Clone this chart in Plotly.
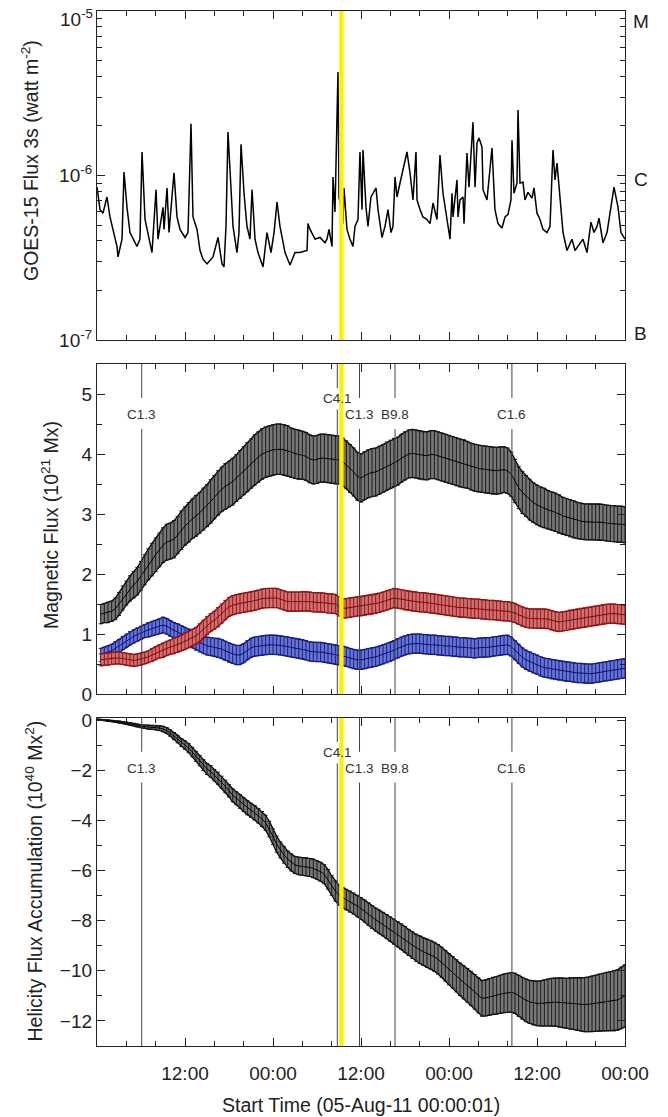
import numpy as np
import plotly.graph_objects as go

# ---------------------------------------------------------------------------
# GOES-15 soft X-ray flux (hours after 05-Aug-2011 00:00 UT, units of 1e-7 W m^-2)
goes_hours = [
    0.00, 0.41, 0.82, 1.36, 1.77, 2.18, 2.73, 2.86, 3.41, 3.68,
    4.09, 4.50, 4.91, 5.45, 5.86, 6.14, 6.55, 6.95, 7.50, 8.05,
    8.32, 9.00, 9.14, 9.55, 9.82, 10.50, 10.91, 11.32, 12.00, 12.41,
    12.82, 13.09, 13.64, 14.05, 14.45, 15.00, 15.82, 16.50, 17.05, 17.32,
    17.59, 17.86, 18.14, 18.55, 19.09, 19.36, 19.64, 20.05, 20.45, 20.86,
    21.14, 21.55, 21.95, 22.64, 23.18, 23.73, 24.14, 24.55, 24.95, 25.64,
    26.32, 27.00, 27.68, 28.64, 28.77, 29.05, 29.73, 30.41, 31.09, 31.36,
    31.64, 32.05, 32.18, 32.45, 32.86, 33.00, 33.41, 33.55, 33.68, 34.09,
    34.50, 34.91, 35.18, 35.59, 35.86, 36.14, 36.27, 36.68, 36.95, 37.36,
    37.64, 38.05, 38.32, 38.86, 39.27, 39.68, 40.09, 40.36, 40.64, 40.91,
    41.32, 41.73, 42.27, 42.68, 43.09, 43.50, 43.64, 44.05, 44.45, 45.00,
    45.41, 45.82, 46.36, 46.77, 47.18, 47.73, 48.14, 48.41, 48.55, 49.09,
    49.23, 49.50, 49.91, 50.05, 50.45, 50.73, 51.14, 51.27, 51.55, 51.82,
    52.09, 52.50, 52.64, 53.18, 53.86, 54.00, 54.27, 54.68, 55.23, 55.64,
    56.05, 56.45, 56.59, 56.86, 57.27, 57.41, 57.68, 58.09, 58.36, 58.77,
    59.32, 59.59, 60.00, 60.41, 60.82, 61.36, 61.77, 62.18, 62.45, 62.73,
    63.14, 63.55, 64.09, 64.77, 65.18, 65.86, 66.27, 66.82, 67.36, 67.77,
    68.18, 68.45, 69.00, 69.55, 70.09, 70.50, 71.05, 71.45, 72.00,
]
goes_flux_e7 = [
    8.5, 6.2, 5.9, 7.4, 5.6, 4.7, 3.7, 3.2, 4.1, 10.5,
    6.4, 4.5, 4.1, 3.7, 4.1, 13.9, 5.4, 4.5, 3.4, 8.2,
    4.1, 6.4, 4.7, 8.4, 4.5, 10.4, 5.6, 4.7, 4.2, 4.5,
    20.6, 5.6, 4.7, 3.5, 3.1, 2.9, 3.2, 4.2, 2.9, 2.78,
    4.9, 18.4, 10.4, 4.9, 3.4, 4.5, 15.5, 7.8, 4.9, 4.1,
    8.2, 4.1, 3.4, 2.78, 4.5, 3.4, 4.5, 6.9, 4.9, 3.4,
    2.86, 3.4, 3.4, 3.5, 5.1, 4.7, 4.1, 4.2, 3.9, 4.1,
    4.7, 3.7, 9.8, 6.0, 42.6, 7.4, 5.9, 5.1, 8.4, 4.7,
    4.1, 3.7, 4.9, 5.4, 13.9, 6.2, 14.3, 6.4, 4.9, 7.4,
    7.8, 8.4, 6.2, 4.2, 4.9, 6.2, 4.5, 4.9, 9.8, 7.4,
    9.0, 10.8, 13.9, 10.4, 7.1, 13.9, 7.1, 6.2, 5.6, 5.4,
    5.1, 6.8, 5.4, 13.3, 7.8, 5.4, 4.1, 7.8, 5.6, 9.4,
    5.6, 7.1, 7.4, 5.1, 13.7, 8.5, 17.1, 21.1, 8.5, 15.8,
    16.9, 14.9, 8.2, 7.1, 14.7, 10.8, 6.2, 5.1, 4.8, 5.6,
    5.8, 7.1, 16.4, 7.8, 9.0, 25.0, 9.0, 9.1, 7.1, 7.9,
    7.3, 8.4, 5.9, 5.4, 4.7, 4.5, 4.9, 14.3, 9.4, 11.9,
    7.1, 4.5, 3.5, 4.1, 3.5, 3.9, 4.1, 3.4, 5.2, 4.5,
    4.9, 5.5, 3.9, 4.5, 6.4, 8.5, 6.4, 4.5, 4.1,
]

# ---------------------------------------------------------------------------
# Magnetic flux of the active region (10^21 Mx), half-hour samples from 00:30
flux_hours = np.arange(1, 145) * 0.5
total_flux = [
    1.33, 1.35, 1.36, 1.38, 1.42, 1.50, 1.60, 1.68, 1.76, 1.82,
    1.88, 1.97, 2.07, 2.16, 2.24, 2.32, 2.40, 2.48, 2.53, 2.55,
    2.58, 2.65, 2.73, 2.80, 2.86, 2.92, 2.97, 3.02, 3.08, 3.14,
    3.21, 3.28, 3.35, 3.41, 3.46, 3.50, 3.54, 3.60, 3.66, 3.72,
    3.78, 3.84, 3.90, 3.95, 4.00, 4.03, 4.05, 4.07, 4.08, 4.08,
    4.07, 4.05, 4.02, 4.00, 3.99, 3.98, 3.96, 3.92, 3.90, 3.91,
    3.93, 3.93, 3.92, 3.91, 3.90, 3.90, 3.87, 3.82, 3.76, 3.70,
    3.63, 3.60, 3.64, 3.67, 3.69, 3.70, 3.73, 3.76, 3.80, 3.83,
    3.86, 3.88, 3.93, 3.97, 4.00, 4.01, 4.00, 3.98, 3.97, 3.97,
    3.99, 3.99, 3.97, 3.95, 3.93, 3.91, 3.89, 3.87, 3.85, 3.84,
    3.82, 3.79, 3.77, 3.76, 3.75, 3.74, 3.73, 3.72, 3.72, 3.73,
    3.74, 3.72, 3.66, 3.55, 3.44, 3.36, 3.30, 3.24, 3.19, 3.15,
    3.12, 3.10, 3.07, 3.05, 3.03, 3.00, 2.97, 2.95, 2.93, 2.91,
    2.89, 2.88, 2.87, 2.87, 2.87, 2.87, 2.87, 2.86, 2.85, 2.84, 2.84, 2.83, 2.83, 2.82,
]
total_err = [
    0.16, 0.16, 0.17, 0.17, 0.18, 0.19, 0.20, 0.20, 0.21, 0.22,
    0.23, 0.24, 0.25, 0.26, 0.27, 0.28, 0.28, 0.29, 0.30, 0.30,
    0.31, 0.31, 0.32, 0.32, 0.33, 0.33, 0.34, 0.34, 0.35, 0.35,
    0.36, 0.36, 0.37, 0.37, 0.38, 0.38, 0.39, 0.39, 0.40, 0.40,
    0.41, 0.41, 0.42, 0.42, 0.42, 0.42, 0.42, 0.42, 0.42, 0.42,
    0.42, 0.42, 0.41, 0.41, 0.41, 0.40, 0.40, 0.40, 0.40, 0.40,
    0.40, 0.40, 0.40, 0.40, 0.40, 0.40, 0.40, 0.40, 0.40, 0.40,
    0.40, 0.40, 0.40, 0.40, 0.40, 0.40, 0.40, 0.40, 0.40, 0.40,
    0.40, 0.40, 0.40, 0.40, 0.40, 0.40, 0.40, 0.40, 0.40, 0.40,
    0.40, 0.40, 0.40, 0.40, 0.40, 0.40, 0.40, 0.40, 0.40, 0.40,
    0.39, 0.39, 0.39, 0.39, 0.39, 0.39, 0.39, 0.39, 0.39, 0.39,
    0.38, 0.38, 0.37, 0.36, 0.35, 0.35, 0.34, 0.34, 0.33, 0.33,
    0.33, 0.33, 0.32, 0.32, 0.32, 0.32, 0.31, 0.31, 0.31, 0.31,
    0.30, 0.30, 0.30, 0.30, 0.30, 0.30, 0.30, 0.30, 0.30, 0.30, 0.30, 0.30, 0.30, 0.30,
]
positive_flux = [
    0.57, 0.58, 0.58, 0.59, 0.60, 0.60, 0.59, 0.58, 0.57, 0.56,
    0.57, 0.58, 0.60, 0.62, 0.65, 0.68, 0.71, 0.73, 0.76, 0.78,
    0.80, 0.82, 0.85, 0.88, 0.91, 0.94, 0.97, 1.02, 1.08, 1.14,
    1.19, 1.23, 1.28, 1.34, 1.40, 1.45, 1.48, 1.50, 1.51, 1.52,
    1.53, 1.54, 1.55, 1.57, 1.59, 1.60, 1.60, 1.60, 1.60, 1.58,
    1.56, 1.54, 1.54, 1.54, 1.54, 1.55, 1.55, 1.54, 1.53, 1.53,
    1.53, 1.52, 1.51, 1.51, 1.50, 1.46, 1.43, 1.43, 1.44, 1.45,
    1.46, 1.46, 1.47, 1.48, 1.49, 1.50, 1.52, 1.54, 1.56, 1.58,
    1.60, 1.59, 1.58, 1.56, 1.55, 1.54, 1.54, 1.53, 1.53, 1.52,
    1.51, 1.51, 1.50, 1.49, 1.48, 1.47, 1.46, 1.45, 1.44, 1.44,
    1.43, 1.43, 1.42, 1.42, 1.41, 1.41, 1.40, 1.40, 1.39, 1.39,
    1.38, 1.38, 1.37, 1.35, 1.32, 1.29, 1.27, 1.26, 1.26, 1.26,
    1.26, 1.26, 1.25, 1.23, 1.21, 1.20, 1.21, 1.22, 1.24, 1.25,
    1.26, 1.27, 1.28, 1.29, 1.30, 1.31, 1.32, 1.33, 1.34, 1.34, 1.34, 1.33, 1.33, 1.32,
]
positive_err = [
    0.10, 0.10, 0.10, 0.10, 0.10, 0.10, 0.10, 0.10, 0.10, 0.10,
    0.10, 0.10, 0.10, 0.10, 0.11, 0.11, 0.11, 0.12, 0.12, 0.12,
    0.13, 0.13, 0.13, 0.14, 0.14, 0.14, 0.14, 0.15, 0.15, 0.15,
    0.15, 0.15, 0.16, 0.16, 0.16, 0.16, 0.16, 0.16, 0.16, 0.16,
    0.16, 0.16, 0.16, 0.16, 0.16, 0.16, 0.16, 0.16, 0.16, 0.16,
    0.16, 0.16, 0.16, 0.16, 0.16, 0.16, 0.16, 0.16, 0.16, 0.16,
    0.16, 0.16, 0.16, 0.16, 0.16, 0.16, 0.16, 0.16, 0.16, 0.16,
    0.16, 0.16, 0.16, 0.16, 0.16, 0.16, 0.16, 0.16, 0.16, 0.16,
    0.16, 0.16, 0.16, 0.16, 0.16, 0.16, 0.16, 0.16, 0.16, 0.16,
    0.16, 0.16, 0.16, 0.16, 0.16, 0.16, 0.16, 0.16, 0.16, 0.16,
    0.16, 0.16, 0.16, 0.16, 0.16, 0.16, 0.16, 0.16, 0.16, 0.16,
    0.16, 0.16, 0.16, 0.16, 0.16, 0.16, 0.16, 0.16, 0.16, 0.16,
    0.16, 0.16, 0.16, 0.16, 0.16, 0.16, 0.16, 0.16, 0.16, 0.16,
    0.16, 0.16, 0.16, 0.16, 0.16, 0.16, 0.16, 0.16, 0.16, 0.16, 0.16, 0.16, 0.16, 0.16,
]
negative_flux = [
    0.65, 0.67, 0.69, 0.72, 0.76, 0.80, 0.85, 0.89, 0.93, 0.96,
    0.99, 1.02, 1.05, 1.07, 1.09, 1.11, 1.13, 1.15, 1.13, 1.09,
    1.06, 1.03, 1.00, 0.97, 0.94, 0.91, 0.88, 0.85, 0.82, 0.80,
    0.79, 0.78, 0.77, 0.75, 0.72, 0.69, 0.67, 0.65, 0.65, 0.68,
    0.73, 0.77, 0.79, 0.80, 0.81, 0.82, 0.82, 0.82, 0.82, 0.81,
    0.80, 0.79, 0.78, 0.77, 0.76, 0.75, 0.73, 0.71, 0.70, 0.70,
    0.70, 0.69, 0.68, 0.67, 0.66, 0.65, 0.64, 0.62, 0.60, 0.58,
    0.57, 0.57, 0.58, 0.60, 0.61, 0.62, 0.64, 0.66, 0.68, 0.70,
    0.73, 0.76, 0.79, 0.81, 0.83, 0.84, 0.84, 0.84, 0.83, 0.83,
    0.82, 0.82, 0.81, 0.81, 0.80, 0.80, 0.79, 0.79, 0.78, 0.78,
    0.77, 0.77, 0.76, 0.77, 0.77, 0.78, 0.78, 0.79, 0.80, 0.81,
    0.82, 0.82, 0.79, 0.73, 0.67, 0.61, 0.57, 0.54, 0.51, 0.49,
    0.46, 0.44, 0.43, 0.41, 0.40, 0.39, 0.38, 0.37, 0.37, 0.36,
    0.35, 0.35, 0.34, 0.34, 0.34, 0.35, 0.36, 0.37, 0.38, 0.39, 0.40, 0.41, 0.42, 0.43,
]
negative_err = [
    0.11, 0.11, 0.11, 0.11, 0.11, 0.11, 0.11, 0.11, 0.11, 0.11,
    0.11, 0.11, 0.11, 0.12, 0.12, 0.12, 0.12, 0.13, 0.13, 0.13,
    0.13, 0.14, 0.14, 0.14, 0.14, 0.14, 0.15, 0.15, 0.15, 0.15,
    0.15, 0.15, 0.16, 0.16, 0.16, 0.16, 0.16, 0.16, 0.16, 0.16,
    0.16, 0.16, 0.16, 0.16, 0.16, 0.16, 0.16, 0.16, 0.16, 0.16,
    0.16, 0.16, 0.16, 0.16, 0.16, 0.16, 0.16, 0.16, 0.16, 0.16,
    0.16, 0.16, 0.16, 0.16, 0.16, 0.16, 0.16, 0.16, 0.16, 0.16,
    0.16, 0.16, 0.16, 0.16, 0.16, 0.16, 0.16, 0.16, 0.16, 0.16,
    0.16, 0.16, 0.16, 0.16, 0.16, 0.16, 0.16, 0.16, 0.16, 0.16,
    0.16, 0.16, 0.16, 0.16, 0.16, 0.16, 0.16, 0.16, 0.16, 0.16,
    0.16, 0.16, 0.16, 0.16, 0.16, 0.16, 0.16, 0.16, 0.16, 0.16,
    0.16, 0.16, 0.16, 0.16, 0.16, 0.16, 0.16, 0.16, 0.16, 0.16,
    0.16, 0.16, 0.16, 0.16, 0.16, 0.16, 0.16, 0.16, 0.16, 0.16,
    0.16, 0.16, 0.16, 0.16, 0.16, 0.16, 0.16, 0.16, 0.16, 0.16, 0.16, 0.16, 0.16, 0.16,
]

# ---------------------------------------------------------------------------
# Accumulated helicity flux (10^40 Mx^2), half-hour samples from 00:00
helicity_hours = np.arange(0, 145) * 0.5
helicity = [
    0.02,
    0.01, 0.00, -0.02, -0.04, -0.06, -0.08, -0.10, -0.12, -0.15, -0.18,
    -0.22, -0.25, -0.27, -0.28, -0.29, -0.30, -0.32, -0.36, -0.42, -0.52,
    -0.64, -0.76, -0.90, -1.00, -1.12, -1.28, -1.45, -1.62, -1.80, -1.95,
    -2.05, -2.20, -2.32, -2.48, -2.65, -2.82, -3.00, -3.12, -3.25, -3.38,
    -3.50, -3.60, -3.70, -3.82, -3.95, -4.10, -4.35, -4.65, -4.95, -5.18,
    -5.38, -5.55, -5.68, -5.78, -5.82, -5.84, -5.85, -5.88, -5.92, -5.98,
    -6.05, -6.15, -6.35, -6.60, -6.82, -6.98, -7.08, -7.16, -7.24, -7.32,
    -7.42, -7.52, -7.62, -7.74, -7.86, -7.96, -8.05, -8.14, -8.24, -8.34,
    -8.44, -8.54, -8.64, -8.75, -8.87, -8.98, -9.08, -9.16, -9.24, -9.30,
    -9.36, -9.44, -9.54, -9.66, -9.80, -9.94, -10.06, -10.20, -10.34, -10.46,
    -10.58, -10.70, -10.84, -10.98, -11.10, -11.08, -11.04, -11.00, -10.98, -10.94,
    -10.90, -10.88, -10.86, -10.90, -11.00, -11.10, -11.18, -11.24, -11.28, -11.30,
    -11.30, -11.28, -11.26, -11.25, -11.25, -11.26, -11.28, -11.30, -11.30, -11.31,
    -11.32, -11.34, -11.35, -11.34, -11.32, -11.30, -11.27, -11.25, -11.23, -11.22,
    -11.20, -11.16, -11.08, -11.00,
]
helicity_err = [
    0.02, 0.02, 0.02, 0.03, 0.03, 0.03, 0.04, 0.04, 0.04, 0.05, 0.05,
    0.06, 0.06, 0.07, 0.08, 0.08, 0.09, 0.10, 0.11, 0.12, 0.13,
    0.14, 0.15, 0.16, 0.17, 0.18, 0.19, 0.20, 0.21, 0.22, 0.22,
    0.23, 0.23, 0.24, 0.24, 0.25, 0.25, 0.26, 0.26, 0.27, 0.27,
    0.28, 0.28, 0.29, 0.29, 0.30, 0.30, 0.31, 0.31, 0.32, 0.32,
    0.33, 0.33, 0.34, 0.34, 0.35, 0.35, 0.36, 0.36, 0.37, 0.37,
    0.38, 0.38, 0.39, 0.39, 0.40, 0.40, 0.41, 0.41, 0.42, 0.42,
    0.43, 0.43, 0.44, 0.45, 0.45, 0.46, 0.47, 0.47, 0.48, 0.49,
    0.50, 0.50, 0.51, 0.52, 0.52, 0.53, 0.54, 0.55, 0.55, 0.56,
    0.57, 0.58, 0.59, 0.60, 0.61, 0.62, 0.63, 0.64, 0.65, 0.66,
    0.67, 0.68, 0.69, 0.70, 0.71, 0.72, 0.73, 0.74, 0.75, 0.76,
    0.77, 0.78, 0.79, 0.80, 0.82, 0.83, 0.85, 0.86, 0.88, 0.89,
    0.90, 0.92, 0.93, 0.95, 0.96, 0.98, 0.99, 1.00, 1.02, 1.03,
    1.05, 1.06, 1.08, 1.09, 1.11, 1.12, 1.14, 1.15, 1.17, 1.18, 1.20, 1.21, 1.23, 1.24,
]

# Flare peaks marked on the lower panels
flare_hours = [6.10, 32.77, 35.80, 40.64, 56.58]
flare_class = ["C1.3", "C4.1", "C1.3", "B9.8", "C1.6"]
flare_raised = [False, True, False, False, False]
highlight_span = (33.03, 33.63)

# Time axis ticks
major_hours = [0, 12, 24, 36, 48, 60, 72]
major_text = ["", "12:00", "00:00", "12:00", "00:00", "12:00", "00:00"]
minor_hours = [h for h in range(0, 73, 4) if h % 12]

# GOES flux decades (top decade label is placed by hand just inside the frame)
goes_decades = [1e-7, 1e-6, 1e-5]
goes_decade_text = ["10<sup>-7</sup>", "10<sup>-6</sup>", ""]
goes_top_label = "10<sup>-5</sup>"

# ---------------------------------------------------------------------------
FONT = "Liberation Sans, Arial, Helvetica, sans-serif"
INK = "#222222"
W, H = 668, 1117
L, R, T, B = 97, 43, 11, 71
plot_h = H - T - B


def dom(top_px, bot_px):
    return [(H - B - bot_px) / plot_h, (H - B - top_px) / plot_h]


def px_x(px):
    return (px - L) / (W - L - R)


def px_y(py):
    return (H - B - py) / plot_h


fig = go.Figure()

# Panel 1: GOES flux
fig.add_trace(go.Scatter(
    x=goes_hours, y=np.array(goes_flux_e7) * 1e-7, mode="lines",
    line=dict(color="black", width=1.5), xaxis="x", yaxis="y", showlegend=False,
))


def band(x, y, err, xa, ya, fill, bar, edge):
    y = np.array(y)
    err = np.array(err)
    fig.add_trace(go.Scatter(x=x, y=y + err, mode="lines", line=dict(color=edge, width=1.2),
                             xaxis=xa, yaxis=ya, showlegend=False))
    fig.add_trace(go.Scatter(x=x, y=y - err, mode="lines", line=dict(color=edge, width=1.2),
                             fill="tonexty", fillcolor=fill,
                             xaxis=xa, yaxis=ya, showlegend=False))
    fig.add_trace(go.Scatter(x=x, y=y, mode="markers",
                             marker=dict(size=1, color="rgba(0,0,0,0)"),
                             error_y=dict(type="data", array=err, color=bar, thickness=1, width=2),
                             xaxis=xa, yaxis=ya, showlegend=False))
    fig.add_trace(go.Scatter(x=x, y=y, mode="lines", line=dict(color=edge, width=1),
                             xaxis=xa, yaxis=ya, showlegend=False))


# Panel 2: magnetic flux
band(flux_hours, total_flux, total_err, "x2", "y2", "rgb(120,120,120)", "rgb(25,25,25)", "black")
band(flux_hours, negative_flux, negative_err, "x2", "y2", "rgb(105,118,205)", "rgb(20,30,140)", "rgb(10,10,130)")
band(flux_hours, positive_flux, positive_err, "x2", "y2", "rgb(205,115,115)", "rgb(150,20,20)", "rgb(140,0,0)")

# Panel 3: helicity accumulation
band(helicity_hours, helicity, helicity_err, "x3", "y3", "rgb(120,120,120)", "rgb(25,25,25)", "black")

common_x = dict(
    range=[0, 72], tickmode="array", tickvals=major_hours, ticktext=major_text,
    ticks="inside", ticklen=8, tickwidth=1, tickcolor=INK,
    minor=dict(tickmode="array", tickvals=minor_hours, ticks="inside", ticklen=5,
               tickwidth=1, tickcolor=INK),
    showline=True, linecolor=INK, linewidth=1.3, mirror="ticks",
    showgrid=False, zeroline=False, automargin=False,
    tickfont=dict(family=FONT, size=19, color=INK),
)
common_y = dict(
    ticks="inside", ticklen=8, tickwidth=1, tickcolor=INK,
    showline=True, linecolor=INK, linewidth=1.3, mirror="ticks",
    showgrid=False, zeroline=False, automargin=False,
    tickfont=dict(family=FONT, size=19, color=INK),
)

log_minor = [m * 10.0 ** e for e in (-7, -6) for m in range(2, 10)]

fig.update_layout(
    width=W, height=H,
    margin=dict(l=L, r=R, t=T, b=B, autoexpand=False),
    paper_bgcolor="white", plot_bgcolor="white",
    font=dict(family=FONT, color=INK),
    xaxis=dict(common_x, domain=[0, 1], anchor="y", showticklabels=False),
    yaxis=dict(common_y, domain=dom(11, 340), anchor="x", type="log",
               range=[-7.0002, -4.9998],
               tickmode="array", tickvals=goes_decades, ticktext=goes_decade_text,
               minor=dict(tickmode="array", tickvals=log_minor, ticks="inside",
                          ticklen=5, tickwidth=1, tickcolor=INK)),
    xaxis2=dict(common_x, domain=[0, 1], anchor="y2", showticklabels=False),
    yaxis2=dict(common_y, domain=dom(364, 694), anchor="x2", range=[0, 5.5],
                tickmode="array", tickvals=[0, 1, 2, 3, 4, 5],
                minor=dict(tickmode="array", tickvals=[0.5, 1.5, 2.5, 3.5, 4.5, 5.5],
                           ticks="inside", ticklen=5, tickwidth=1, tickcolor=INK)),
    xaxis3=dict(common_x, domain=[0, 1], anchor="y3", ticklabelstandoff=10),
    yaxis3=dict(common_y, domain=dom(718, 1046), anchor="x3", range=[-13, 0.08],
                tickmode="array", tickvals=[-12, -10, -8, -6, -4, -2, 0],
                minor=dict(tickmode="array", tickvals=[-13, -11, -9, -7, -5, -3, -1],
                           ticks="inside", ticklen=5, tickwidth=1, tickcolor=INK)),
)

shapes = []
annotations = []

# Yellow highlight across all three panels
for xa, ya in (("x", "y"), ("x2", "y2"), ("x3", "y3")):
    shapes.append(dict(type="rect", xref=xa, yref=f"{ya} domain",
                       x0=highlight_span[0], x1=highlight_span[1], y0=0, y1=1,
                       fillcolor="#FFF000", line=dict(width=0), layer="above"))

# Flare marker lines with a gap around the class label
for xa, ya in (("x2", "y2"), ("x3", "y3")):
    for hr, name, up in zip(flare_hours, flare_class, flare_raised):
        if up:
            gap_top, gap_bot, ylab = 0.927, 0.862, 0.894
        else:
            gap_top, gap_bot, ylab = 0.897, 0.803, 0.846
        for y0, y1 in ((0, gap_bot), (gap_top, 1)):
            shapes.append(dict(type="line", xref=xa, yref=f"{ya} domain",
                               x0=hr, x1=hr, y0=y0, y1=y1,
                               line=dict(color="#444444", width=1), layer="above"))
        annotations.append(dict(xref=xa, yref=f"{ya} domain", x=hr, y=ylab, text=name,
                                showarrow=False, xanchor="center", yanchor="middle",
                                font=dict(family=FONT, size=13.5, color="#333333")))

# GOES class letters on the right
for yd, letter in ((0.968, "M"), (0.489, "C"), (0.021, "B")):
    annotations.append(dict(xref="paper", yref="y domain", x=px_x(640.7), y=yd,
                            text=letter, showarrow=False, xanchor="center", yanchor="middle",
                            font=dict(family=FONT, size=19, color=INK)))

# Top decade label of the GOES axis
annotations.append(dict(xref="paper", yref="paper", x=px_x(95), y=px_y(18),
                        text=goes_top_label, showarrow=False, xanchor="right", yanchor="middle",
                        font=dict(family=FONT, size=19, color=INK)))

title_font = dict(family=FONT, size=19.5, color=INK)
annotations += [
    dict(xref="paper", yref="paper", x=px_x(30), y=px_y(161), textangle=-90,
         text="GOES-15 Flux 3s (watt m<sup>-2</sup>)", showarrow=False,
         xanchor="center", yanchor="middle", font=title_font),
    dict(xref="paper", yref="paper", x=px_x(50), y=px_y(525), textangle=-90,
         text="Magnetic Flux (10<sup>21</sup> Mx)", showarrow=False,
         xanchor="center", yanchor="middle", font=title_font),
    dict(xref="paper", yref="paper", x=px_x(33), y=px_y(881.5), textangle=-90,
         text="Helicity Flux Accumulation (10<sup>40</sup> Mx<sup>2</sup>)", showarrow=False,
         xanchor="center", yanchor="middle", font=title_font),
    dict(xref="paper", yref="paper", x=px_x(361), y=px_y(1105),
         text="Start Time (05-Aug-11 00:00:01)", showarrow=False,
         xanchor="center", yanchor="middle", font=title_font),
]

fig.update_layout(shapes=shapes, annotations=annotations)
fig.write_html("out.html")
